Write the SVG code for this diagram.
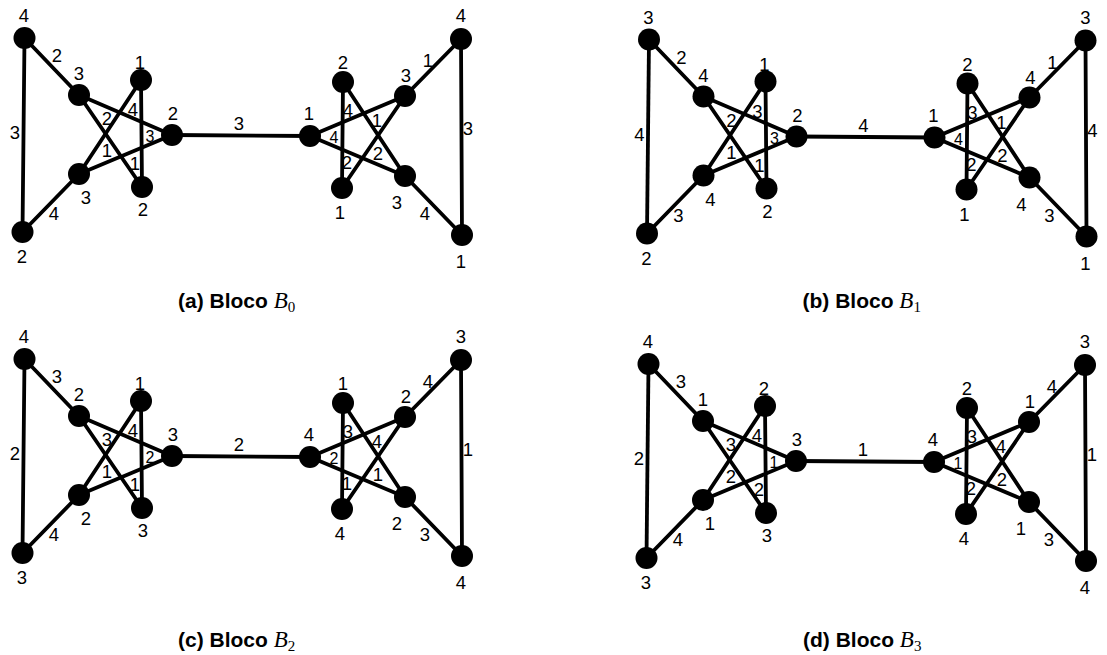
<svg xmlns="http://www.w3.org/2000/svg" width="1107" height="655" viewBox="0 0 1107 655">
  <style>
    .bg { fill: #ffffff; }
    .e { stroke: #000; stroke-width: 3.8; stroke-linecap: round; fill: none; }
    .n circle { fill: #000; }
    .t { font-family: "Liberation Sans", Arial, sans-serif; font-size: 18.5px; fill: #000; text-anchor: middle; }
    .ts { font-size: 16px; }
    .cap { font-family: "Liberation Sans", Arial, sans-serif; font-size: 21px; font-weight: bold; fill: #000; }
    .math { font-family: "Liberation Serif", "Times New Roman", serif; font-style: italic; font-weight: normal; font-size: 23px; }
    .sub { font-family: "Liberation Serif", "Times New Roman", serif; font-style: normal; font-weight: normal; font-size: 15px; }
  </style>
  <rect class="bg" x="0" y="0" width="1107" height="655"/>

  <!-- ===== Block B0 ===== -->
  <g id="block-a" transform="translate(0,0)">
    <g id="a-edges">
      <line class="e" x1="24.5" y1="38" x2="22.5" y2="232"/>
      <line class="e" x1="24.5" y1="38" x2="79" y2="95"/>
      <line class="e" x1="22.5" y1="232" x2="79" y2="174"/>
      <line class="e" x1="79" y1="95" x2="172" y2="135"/>
      <line class="e" x1="79" y1="95" x2="142" y2="187"/>
      <line class="e" x1="79" y1="174" x2="141" y2="80"/>
      <line class="e" x1="79" y1="174" x2="172" y2="135"/>
      <line class="e" x1="141" y1="80" x2="142" y2="187"/>
      <line class="e" x1="172" y1="135" x2="310" y2="136"/>
      <line class="e" x1="310" y1="136" x2="405" y2="96"/>
      <line class="e" x1="310" y1="136" x2="405" y2="176"/>
      <line class="e" x1="343" y1="82" x2="342" y2="188"/>
      <line class="e" x1="343" y1="82" x2="405" y2="176"/>
      <line class="e" x1="342" y1="188" x2="405" y2="96"/>
      <line class="e" x1="405" y1="96" x2="461" y2="39"/>
      <line class="e" x1="405" y1="176" x2="462" y2="235"/>
      <line class="e" x1="461" y1="39" x2="462" y2="235"/>
      <!-- edge and port labels -->
      <text class="t" x="15" y="139">3</text>
      <text class="t" x="57" y="62">2</text>
      <text class="t" x="54" y="220">4</text>
      <text class="t" x="239" y="130">3</text>
      <text class="t" x="133" y="116">4</text>
      <text class="t" x="107" y="125">2</text>
      <text class="t ts" x="150" y="142">3</text>
      <text class="t" x="107" y="157">1</text>
      <text class="t" x="135" y="170">1</text>
      <text class="t" x="348" y="117">4</text>
      <text class="t" x="377" y="127">1</text>
      <text class="t ts" x="334" y="143">4</text>
      <text class="t" x="347" y="169">2</text>
      <text class="t" x="378" y="160">2</text>
      <text class="t" x="428" y="67">1</text>
      <text class="t" x="468" y="135">3</text>
      <text class="t" x="425" y="220">4</text>
    </g>
    <g id="a-A" class="n"><circle cx="24.5" cy="38" r="11"/><text class="t" x="24" y="22">4</text></g>
    <g id="a-B" class="n"><circle cx="22.5" cy="232" r="11"/><text class="t" x="22" y="263">2</text></g>
    <g id="a-C" class="n"><circle cx="79" cy="95" r="11"/><text class="t" x="79" y="80">3</text></g>
    <g id="a-D" class="n"><circle cx="79" cy="174" r="11"/><text class="t" x="86" y="204">3</text></g>
    <g id="a-E" class="n"><circle cx="141" cy="80" r="11"/><text class="t" x="140" y="69">1</text></g>
    <g id="a-F" class="n"><circle cx="142" cy="187" r="11"/><text class="t" x="143" y="216">2</text></g>
    <g id="a-G" class="n"><circle cx="172" cy="135" r="11"/><text class="t" x="173" y="120">2</text></g>
    <g id="a-H" class="n"><circle cx="310" cy="136" r="11"/><text class="t" x="309" y="120">1</text></g>
    <g id="a-I" class="n"><circle cx="343" cy="82" r="11"/><text class="t" x="343" y="69">2</text></g>
    <g id="a-J" class="n"><circle cx="342" cy="188" r="11"/><text class="t" x="340" y="219">1</text></g>
    <g id="a-K" class="n"><circle cx="405" cy="96" r="11"/><text class="t" x="406" y="82">3</text></g>
    <g id="a-L" class="n"><circle cx="405" cy="176" r="11"/><text class="t" x="397" y="209">3</text></g>
    <g id="a-M" class="n"><circle cx="461" cy="39" r="11"/><text class="t" x="461" y="22">4</text></g>
    <g id="a-N" class="n"><circle cx="462" cy="235" r="11"/><text class="t" x="461" y="268">1</text></g>
    <text class="cap" x="178" y="308">(a) Bloco <tspan class="math">B</tspan><tspan class="sub" dy="4">0</tspan></text>
  </g>

  <!-- ===== Block B1 ===== -->
  <g id="block-b" transform="translate(624.5,1.5)">
    <g id="b-edges">
      <line class="e" x1="24.5" y1="38" x2="22.5" y2="232"/>
      <line class="e" x1="24.5" y1="38" x2="79" y2="95"/>
      <line class="e" x1="22.5" y1="232" x2="79" y2="174"/>
      <line class="e" x1="79" y1="95" x2="172" y2="135"/>
      <line class="e" x1="79" y1="95" x2="142" y2="187"/>
      <line class="e" x1="79" y1="174" x2="141" y2="80"/>
      <line class="e" x1="79" y1="174" x2="172" y2="135"/>
      <line class="e" x1="141" y1="80" x2="142" y2="187"/>
      <line class="e" x1="172" y1="135" x2="310" y2="136"/>
      <line class="e" x1="310" y1="136" x2="405" y2="96"/>
      <line class="e" x1="310" y1="136" x2="405" y2="176"/>
      <line class="e" x1="343" y1="82" x2="342" y2="188"/>
      <line class="e" x1="343" y1="82" x2="405" y2="176"/>
      <line class="e" x1="342" y1="188" x2="405" y2="96"/>
      <line class="e" x1="405" y1="96" x2="461" y2="39"/>
      <line class="e" x1="405" y1="176" x2="462" y2="235"/>
      <line class="e" x1="461" y1="39" x2="462" y2="235"/>
      <text class="t" x="15" y="139">4</text>
      <text class="t" x="57" y="62">2</text>
      <text class="t" x="54" y="220">3</text>
      <text class="t" x="239" y="130">4</text>
      <text class="t" x="133" y="116">3</text>
      <text class="t" x="107" y="125">2</text>
      <text class="t ts" x="150" y="142">3</text>
      <text class="t" x="107" y="157">1</text>
      <text class="t" x="135" y="170">1</text>
      <text class="t" x="348" y="117">3</text>
      <text class="t" x="377" y="127">1</text>
      <text class="t ts" x="334" y="143">4</text>
      <text class="t" x="347" y="169">2</text>
      <text class="t" x="378" y="160">2</text>
      <text class="t" x="428" y="67">1</text>
      <text class="t" x="468" y="135">4</text>
      <text class="t" x="425" y="220">3</text>
    </g>
    <g id="b-A" class="n"><circle cx="24.5" cy="38" r="11"/><text class="t" x="24" y="22">3</text></g>
    <g id="b-B" class="n"><circle cx="22.5" cy="232" r="11"/><text class="t" x="22" y="263">2</text></g>
    <g id="b-C" class="n"><circle cx="79" cy="95" r="11"/><text class="t" x="79" y="80">4</text></g>
    <g id="b-D" class="n"><circle cx="79" cy="174" r="11"/><text class="t" x="86" y="204">4</text></g>
    <g id="b-E" class="n"><circle cx="141" cy="80" r="11"/><text class="t" x="140" y="69">1</text></g>
    <g id="b-F" class="n"><circle cx="142" cy="187" r="11"/><text class="t" x="143" y="216">2</text></g>
    <g id="b-G" class="n"><circle cx="172" cy="135" r="11"/><text class="t" x="173" y="120">2</text></g>
    <g id="b-H" class="n"><circle cx="310" cy="136" r="11"/><text class="t" x="309" y="120">1</text></g>
    <g id="b-I" class="n"><circle cx="343" cy="82" r="11"/><text class="t" x="343" y="69">2</text></g>
    <g id="b-J" class="n"><circle cx="342" cy="188" r="11"/><text class="t" x="340" y="219">1</text></g>
    <g id="b-K" class="n"><circle cx="405" cy="96" r="11"/><text class="t" x="406" y="82">4</text></g>
    <g id="b-L" class="n"><circle cx="405" cy="176" r="11"/><text class="t" x="397" y="209">4</text></g>
    <g id="b-M" class="n"><circle cx="461" cy="39" r="11"/><text class="t" x="461" y="22">3</text></g>
    <g id="b-N" class="n"><circle cx="462" cy="235" r="11"/><text class="t" x="461" y="268">1</text></g>
    <text class="cap" x="178" y="306.5">(b) Bloco <tspan class="math">B</tspan><tspan class="sub" dy="4">1</tspan></text>
  </g>

  <!-- ===== Block B2 ===== -->
  <g id="block-c" transform="translate(0,321)">
    <g id="c-edges">
      <line class="e" x1="24.5" y1="38" x2="22.5" y2="232"/>
      <line class="e" x1="24.5" y1="38" x2="79" y2="95"/>
      <line class="e" x1="22.5" y1="232" x2="79" y2="174"/>
      <line class="e" x1="79" y1="95" x2="172" y2="135"/>
      <line class="e" x1="79" y1="95" x2="142" y2="187"/>
      <line class="e" x1="79" y1="174" x2="141" y2="80"/>
      <line class="e" x1="79" y1="174" x2="172" y2="135"/>
      <line class="e" x1="141" y1="80" x2="142" y2="187"/>
      <line class="e" x1="172" y1="135" x2="310" y2="136"/>
      <line class="e" x1="310" y1="136" x2="405" y2="96"/>
      <line class="e" x1="310" y1="136" x2="405" y2="176"/>
      <line class="e" x1="343" y1="82" x2="342" y2="188"/>
      <line class="e" x1="343" y1="82" x2="405" y2="176"/>
      <line class="e" x1="342" y1="188" x2="405" y2="96"/>
      <line class="e" x1="405" y1="96" x2="461" y2="39"/>
      <line class="e" x1="405" y1="176" x2="462" y2="235"/>
      <line class="e" x1="461" y1="39" x2="462" y2="235"/>
      <text class="t" x="15" y="139">2</text>
      <text class="t" x="57" y="62">3</text>
      <text class="t" x="54" y="220">4</text>
      <text class="t" x="239" y="130">2</text>
      <text class="t" x="133" y="116">4</text>
      <text class="t" x="107" y="125">3</text>
      <text class="t ts" x="150" y="142">2</text>
      <text class="t" x="107" y="157">1</text>
      <text class="t" x="135" y="170">1</text>
      <text class="t" x="348" y="117">3</text>
      <text class="t" x="377" y="127">4</text>
      <text class="t ts" x="334" y="143">2</text>
      <text class="t" x="347" y="169">1</text>
      <text class="t" x="378" y="160">1</text>
      <text class="t" x="428" y="67">4</text>
      <text class="t" x="468" y="135">1</text>
      <text class="t" x="425" y="220">3</text>
    </g>
    <g id="c-A" class="n"><circle cx="24.5" cy="38" r="11"/><text class="t" x="24" y="22">4</text></g>
    <g id="c-B" class="n"><circle cx="22.5" cy="232" r="11"/><text class="t" x="22" y="263">3</text></g>
    <g id="c-C" class="n"><circle cx="79" cy="95" r="11"/><text class="t" x="79" y="80">2</text></g>
    <g id="c-D" class="n"><circle cx="79" cy="174" r="11"/><text class="t" x="86" y="204">2</text></g>
    <g id="c-E" class="n"><circle cx="141" cy="80" r="11"/><text class="t" x="140" y="69">1</text></g>
    <g id="c-F" class="n"><circle cx="142" cy="187" r="11"/><text class="t" x="143" y="216">3</text></g>
    <g id="c-G" class="n"><circle cx="172" cy="135" r="11"/><text class="t" x="173" y="120">3</text></g>
    <g id="c-H" class="n"><circle cx="310" cy="136" r="11"/><text class="t" x="309" y="120">4</text></g>
    <g id="c-I" class="n"><circle cx="343" cy="82" r="11"/><text class="t" x="343" y="69">1</text></g>
    <g id="c-J" class="n"><circle cx="342" cy="188" r="11"/><text class="t" x="340" y="219">4</text></g>
    <g id="c-K" class="n"><circle cx="405" cy="96" r="11"/><text class="t" x="406" y="82">2</text></g>
    <g id="c-L" class="n"><circle cx="405" cy="176" r="11"/><text class="t" x="397" y="209">2</text></g>
    <g id="c-M" class="n"><circle cx="461" cy="39" r="11"/><text class="t" x="461" y="22">3</text></g>
    <g id="c-N" class="n"><circle cx="462" cy="235" r="11"/><text class="t" x="461" y="268">4</text></g>
    <text class="cap" x="178" y="326">(c) Bloco <tspan class="math">B</tspan><tspan class="sub" dy="4">2</tspan></text>
  </g>

  <!-- ===== Block B3 ===== -->
  <g id="block-d" transform="translate(624,326)">
    <g id="d-edges">
      <line class="e" x1="24.5" y1="38" x2="22.5" y2="232"/>
      <line class="e" x1="24.5" y1="38" x2="79" y2="95"/>
      <line class="e" x1="22.5" y1="232" x2="79" y2="174"/>
      <line class="e" x1="79" y1="95" x2="172" y2="135"/>
      <line class="e" x1="79" y1="95" x2="142" y2="187"/>
      <line class="e" x1="79" y1="174" x2="141" y2="80"/>
      <line class="e" x1="79" y1="174" x2="172" y2="135"/>
      <line class="e" x1="141" y1="80" x2="142" y2="187"/>
      <line class="e" x1="172" y1="135" x2="310" y2="136"/>
      <line class="e" x1="310" y1="136" x2="405" y2="96"/>
      <line class="e" x1="310" y1="136" x2="405" y2="176"/>
      <line class="e" x1="343" y1="82" x2="342" y2="188"/>
      <line class="e" x1="343" y1="82" x2="405" y2="176"/>
      <line class="e" x1="342" y1="188" x2="405" y2="96"/>
      <line class="e" x1="405" y1="96" x2="461" y2="39"/>
      <line class="e" x1="405" y1="176" x2="462" y2="235"/>
      <line class="e" x1="461" y1="39" x2="462" y2="235"/>
      <text class="t" x="15" y="139">2</text>
      <text class="t" x="57" y="62">3</text>
      <text class="t" x="54" y="220">4</text>
      <text class="t" x="239" y="130">1</text>
      <text class="t" x="133" y="116">4</text>
      <text class="t" x="107" y="125">3</text>
      <text class="t ts" x="150" y="142">1</text>
      <text class="t" x="107" y="157">2</text>
      <text class="t" x="135" y="170">2</text>
      <text class="t" x="348" y="117">3</text>
      <text class="t" x="377" y="127">4</text>
      <text class="t ts" x="334" y="143">1</text>
      <text class="t" x="347" y="169">2</text>
      <text class="t" x="378" y="160">2</text>
      <text class="t" x="428" y="67">4</text>
      <text class="t" x="468" y="135">1</text>
      <text class="t" x="425" y="220">3</text>
    </g>
    <g id="d-A" class="n"><circle cx="24.5" cy="38" r="11"/><text class="t" x="24" y="22">4</text></g>
    <g id="d-B" class="n"><circle cx="22.5" cy="232" r="11"/><text class="t" x="22" y="263">3</text></g>
    <g id="d-C" class="n"><circle cx="79" cy="95" r="11"/><text class="t" x="79" y="80">1</text></g>
    <g id="d-D" class="n"><circle cx="79" cy="174" r="11"/><text class="t" x="86" y="204">1</text></g>
    <g id="d-E" class="n"><circle cx="141" cy="80" r="11"/><text class="t" x="140" y="69">2</text></g>
    <g id="d-F" class="n"><circle cx="142" cy="187" r="11"/><text class="t" x="143" y="216">3</text></g>
    <g id="d-G" class="n"><circle cx="172" cy="135" r="11"/><text class="t" x="173" y="120">3</text></g>
    <g id="d-H" class="n"><circle cx="310" cy="136" r="11"/><text class="t" x="309" y="120">4</text></g>
    <g id="d-I" class="n"><circle cx="343" cy="82" r="11"/><text class="t" x="343" y="69">2</text></g>
    <g id="d-J" class="n"><circle cx="342" cy="188" r="11"/><text class="t" x="340" y="219">4</text></g>
    <g id="d-K" class="n"><circle cx="405" cy="96" r="11"/><text class="t" x="406" y="82">1</text></g>
    <g id="d-L" class="n"><circle cx="405" cy="176" r="11"/><text class="t" x="397" y="209">1</text></g>
    <g id="d-M" class="n"><circle cx="461" cy="39" r="11"/><text class="t" x="461" y="22">3</text></g>
    <g id="d-N" class="n"><circle cx="462" cy="235" r="11"/><text class="t" x="461" y="268">4</text></g>
    <text class="cap" x="179" y="321">(d) Bloco <tspan class="math">B</tspan><tspan class="sub" dy="4">3</tspan></text>
  </g>
</svg>
